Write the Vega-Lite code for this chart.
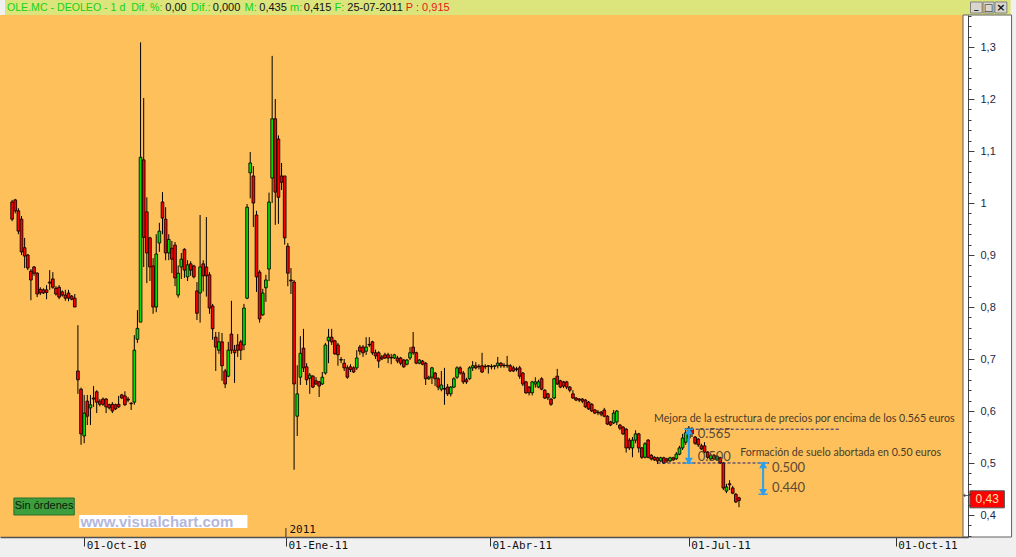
{
"$schema": "https://vega.github.io/schema/vega-lite/v6.json",
"width": 968, "height": 522,
"autosize": {"type": "none"},
"padding": {"left": 0, "top": 15, "right": 48, "bottom": 20},
"background": "#F0F0F0",
"config": {"view": {"fill": "#FEC05A", "stroke": null}, "axis": {"grid": false}},
"resolve": {"axis": {"y": "independent"}},
"datasets": {"velas": [
{"n":0,"o":1.002,"h":1.006,"l":0.965,"c":0.969},{"n":1,"o":1.006,"h":1.008,"l":0.980,"c":0.985},{"n":2,"o":0.985,"h":0.990,"l":0.940,"c":0.946},{"n":3,"o":0.969,"h":0.975,"l":0.900,"c":0.906},{"n":4,"o":0.914,"h":0.933,"l":0.875,"c":0.898},{"n":5,"o":0.900,"h":0.902,"l":0.871,"c":0.875},{"n":6,"o":0.869,"h":0.873,"l":0.813,"c":0.852},{"n":7,"o":0.877,"h":0.879,"l":0.860,"c":0.865},{"n":8,"o":0.865,"h":0.867,"l":0.819,"c":0.825},{"n":9,"o":0.834,"h":0.838,"l":0.823,"c":0.827},
{"n":10,"o":0.833,"h":0.836,"l":0.825,"c":0.827},{"n":11,"o":0.833,"h":0.842,"l":0.815,"c":0.828},{"n":12,"o":0.848,"h":0.871,"l":0.833,"c":0.846},{"n":13,"o":0.854,"h":0.867,"l":0.835,"c":0.838},{"n":14,"o":0.836,"h":0.840,"l":0.822,"c":0.825},{"n":15,"o":0.838,"h":0.842,"l":0.815,"c":0.819},{"n":16,"o":0.829,"h":0.832,"l":0.820,"c":0.823},{"n":17,"o":0.823,"h":0.833,"l":0.812,"c":0.817},{"n":18,"o":0.827,"h":0.833,"l":0.811,"c":0.817},{"n":19,"o":0.821,"h":0.823,"l":0.813,"c":0.815},
{"n":20,"o":0.817,"h":0.825,"l":0.800,"c":0.800},{"n":21,"o":0.677,"h":0.765,"l":0.633,"c":0.660},{"n":22,"o":0.642,"h":0.645,"l":0.535,"c":0.556},{"n":23,"o":0.552,"h":0.631,"l":0.538,"c":0.596},{"n":24,"o":0.619,"h":0.631,"l":0.573,"c":0.590},{"n":25,"o":0.606,"h":0.631,"l":0.573,"c":0.612},{"n":26,"o":0.625,"h":0.648,"l":0.608,"c":0.623},{"n":27,"o":0.637,"h":0.640,"l":0.596,"c":0.617},{"n":28,"o":0.619,"h":0.623,"l":0.609,"c":0.613},{"n":29,"o":0.623,"h":0.626,"l":0.610,"c":0.613},
{"n":30,"o":0.623,"h":0.625,"l":0.596,"c":0.608},{"n":31,"o":0.612,"h":0.614,"l":0.603,"c":0.606},{"n":32,"o":0.613,"h":0.617,"l":0.596,"c":0.600},{"n":33,"o":0.612,"h":0.614,"l":0.602,"c":0.604},{"n":34,"o":0.613,"h":0.629,"l":0.606,"c":0.608},{"n":35,"o":0.631,"h":0.633,"l":0.623,"c":0.625},{"n":36,"o":0.629,"h":0.638,"l":0.610,"c":0.612},{"n":37,"o":0.623,"h":0.627,"l":0.617,"c":0.621},{"n":38,"o":0.615,"h":0.617,"l":0.602,"c":0.614},{"n":39,"o":0.617,"h":0.746,"l":0.612,"c":0.717},
{"n":40,"o":0.738,"h":0.794,"l":0.731,"c":0.759},{"n":41,"o":0.771,"h":1.309,"l":0.771,"c":1.088},{"n":42,"o":1.083,"h":1.202,"l":0.877,"c":0.934},{"n":43,"o":0.983,"h":1.011,"l":0.846,"c":0.904},{"n":44,"o":0.933,"h":0.935,"l":0.850,"c":0.877},{"n":45,"o":0.879,"h":0.894,"l":0.787,"c":0.800},{"n":46,"o":0.800,"h":0.940,"l":0.790,"c":0.902},{"n":47,"o":0.923,"h":0.962,"l":0.906,"c":0.946},{"n":48,"o":1.002,"h":1.021,"l":0.940,"c":0.971},{"n":49,"o":0.969,"h":0.992,"l":0.890,"c":0.904},
{"n":50,"o":0.904,"h":0.940,"l":0.890,"c":0.930},{"n":51,"o":0.913,"h":0.927,"l":0.865,"c":0.892},{"n":52,"o":0.919,"h":0.925,"l":0.840,"c":0.856},{"n":53,"o":0.823,"h":0.880,"l":0.818,"c":0.865},{"n":54,"o":0.877,"h":0.904,"l":0.854,"c":0.892},{"n":55,"o":0.911,"h":0.913,"l":0.856,"c":0.871},{"n":56,"o":0.858,"h":0.890,"l":0.850,"c":0.881},{"n":57,"o":0.883,"h":0.888,"l":0.860,"c":0.871},{"n":58,"o":0.879,"h":0.881,"l":0.855,"c":0.858},{"n":59,"o":0.831,"h":0.848,"l":0.775,"c":0.788},
{"n":60,"o":0.827,"h":0.977,"l":0.770,"c":0.877},{"n":61,"o":0.883,"h":0.890,"l":0.830,"c":0.860},{"n":62,"o":0.877,"h":0.973,"l":0.820,"c":0.860},{"n":63,"o":0.862,"h":0.867,"l":0.787,"c":0.798},{"n":64,"o":0.802,"h":0.806,"l":0.737,"c":0.758},{"n":65,"o":0.742,"h":0.752,"l":0.677,"c":0.723},{"n":66,"o":0.717,"h":0.752,"l":0.710,"c":0.733},{"n":67,"o":0.733,"h":0.750,"l":0.658,"c":0.687},{"n":68,"o":0.677,"h":0.681,"l":0.644,"c":0.652},{"n":69,"o":0.667,"h":0.733,"l":0.665,"c":0.717},
{"n":70,"o":0.748,"h":0.812,"l":0.710,"c":0.717},{"n":71,"o":0.717,"h":0.727,"l":0.654,"c":0.712},{"n":72,"o":0.727,"h":0.748,"l":0.704,"c":0.717},{"n":73,"o":0.733,"h":0.737,"l":0.698,"c":0.717},{"n":74,"o":0.727,"h":0.806,"l":0.717,"c":0.798},{"n":75,"o":0.817,"h":0.998,"l":0.815,"c":0.992},{"n":76,"o":1.058,"h":1.098,"l":1.009,"c":1.077},{"n":77,"o":1.052,"h":1.071,"l":0.954,"c":1.000},{"n":78,"o":0.977,"h":0.985,"l":0.829,"c":0.858},{"n":79,"o":0.867,"h":0.871,"l":0.770,"c":0.777},
{"n":80,"o":0.785,"h":0.835,"l":0.783,"c":0.827},{"n":81,"o":0.837,"h":0.862,"l":0.810,"c":0.852},{"n":82,"o":0.873,"h":1.020,"l":0.850,"c":1.002},{"n":83,"o":1.048,"h":1.283,"l":1.000,"c":1.162},{"n":84,"o":1.162,"h":1.200,"l":0.958,"c":1.021},{"n":85,"o":1.123,"h":1.130,"l":0.960,"c":1.011},{"n":86,"o":1.052,"h":1.077,"l":1.025,"c":1.040},{"n":87,"o":1.052,"h":1.052,"l":0.920,"c":0.933},{"n":88,"o":0.917,"h":0.923,"l":0.840,"c":0.865},{"n":89,"o":0.852,"h":0.875,"l":0.825,"c":0.850},
{"n":90,"o":0.848,"h":0.852,"l":0.487,"c":0.652},{"n":91,"o":0.590,"h":0.688,"l":0.552,"c":0.633},{"n":92,"o":0.665,"h":0.744,"l":0.650,"c":0.711},{"n":93,"o":0.721,"h":0.758,"l":0.675,"c":0.683},{"n":94,"o":0.685,"h":0.692,"l":0.650,"c":0.660},{"n":95,"o":0.663,"h":0.673,"l":0.633,"c":0.669},{"n":96,"o":0.667,"h":0.669,"l":0.644,"c":0.646},{"n":97,"o":0.658,"h":0.665,"l":0.650,"c":0.652},{"n":98,"o":0.656,"h":0.658,"l":0.627,"c":0.648},{"n":99,"o":0.652,"h":0.675,"l":0.650,"c":0.665},
{"n":100,"o":0.673,"h":0.731,"l":0.670,"c":0.727},{"n":101,"o":0.735,"h":0.758,"l":0.692,"c":0.742},{"n":102,"o":0.742,"h":0.758,"l":0.727,"c":0.733},{"n":103,"o":0.735,"h":0.737,"l":0.708,"c":0.710},{"n":104,"o":0.727,"h":0.731,"l":0.687,"c":0.708},{"n":105,"o":0.699,"h":0.704,"l":0.692,"c":0.698},{"n":106,"o":0.692,"h":0.700,"l":0.677,"c":0.683},{"n":107,"o":0.683,"h":0.688,"l":0.662,"c":0.665},{"n":108,"o":0.685,"h":0.690,"l":0.675,"c":0.680},{"n":109,"o":0.683,"h":0.686,"l":0.673,"c":0.675},
{"n":110,"o":0.683,"h":0.717,"l":0.679,"c":0.702},{"n":111,"o":0.723,"h":0.727,"l":0.708,"c":0.715},{"n":112,"o":0.723,"h":0.727,"l":0.704,"c":0.712},{"n":113,"o":0.715,"h":0.742,"l":0.708,"c":0.723},{"n":114,"o":0.728,"h":0.742,"l":0.723,"c":0.727},{"n":115,"o":0.733,"h":0.735,"l":0.708,"c":0.712},{"n":116,"o":0.712,"h":0.718,"l":0.700,"c":0.706},{"n":117,"o":0.712,"h":0.715,"l":0.683,"c":0.696},{"n":118,"o":0.704,"h":0.708,"l":0.698,"c":0.700},{"n":119,"o":0.708,"h":0.712,"l":0.700,"c":0.702},
{"n":120,"o":0.708,"h":0.712,"l":0.692,"c":0.702},{"n":121,"o":0.703,"h":0.710,"l":0.690,"c":0.702},{"n":122,"o":0.702,"h":0.710,"l":0.700,"c":0.708},{"n":123,"o":0.702,"h":0.706,"l":0.692,"c":0.696},{"n":124,"o":0.702,"h":0.704,"l":0.688,"c":0.692},{"n":125,"o":0.698,"h":0.700,"l":0.683,"c":0.685},{"n":126,"o":0.690,"h":0.700,"l":0.688,"c":0.698},{"n":127,"o":0.702,"h":0.723,"l":0.698,"c":0.712},{"n":128,"o":0.723,"h":0.752,"l":0.708,"c":0.712},{"n":129,"o":0.712,"h":0.714,"l":0.690,"c":0.692},
{"n":130,"o":0.692,"h":0.700,"l":0.690,"c":0.698},{"n":131,"o":0.696,"h":0.698,"l":0.688,"c":0.690},{"n":132,"o":0.692,"h":0.694,"l":0.650,"c":0.662},{"n":133,"o":0.662,"h":0.668,"l":0.660,"c":0.665},{"n":134,"o":0.665,"h":0.685,"l":0.652,"c":0.683},{"n":135,"o":0.673,"h":0.675,"l":0.648,"c":0.662},{"n":136,"o":0.662,"h":0.665,"l":0.640,"c":0.646},{"n":137,"o":0.642,"h":0.677,"l":0.638,"c":0.650},{"n":138,"o":0.643,"h":0.683,"l":0.612,"c":0.642},{"n":139,"o":0.646,"h":0.652,"l":0.629,"c":0.633},
{"n":140,"o":0.633,"h":0.648,"l":0.628,"c":0.646},{"n":141,"o":0.646,"h":0.665,"l":0.644,"c":0.662},{"n":142,"o":0.665,"h":0.686,"l":0.662,"c":0.683},{"n":143,"o":0.683,"h":0.686,"l":0.670,"c":0.673},{"n":144,"o":0.673,"h":0.677,"l":0.652,"c":0.656},{"n":145,"o":0.660,"h":0.664,"l":0.652,"c":0.656},{"n":146,"o":0.662,"h":0.686,"l":0.660,"c":0.683},{"n":147,"o":0.683,"h":0.696,"l":0.677,"c":0.687},{"n":148,"o":0.687,"h":0.694,"l":0.680,"c":0.683},{"n":149,"o":0.686,"h":0.690,"l":0.680,"c":0.685},
{"n":150,"o":0.687,"h":0.712,"l":0.673,"c":0.675},{"n":151,"o":0.686,"h":0.690,"l":0.680,"c":0.685},{"n":152,"o":0.687,"h":0.688,"l":0.672,"c":0.686},{"n":153,"o":0.686,"h":0.690,"l":0.680,"c":0.685},{"n":154,"o":0.686,"h":0.688,"l":0.680,"c":0.687},{"n":155,"o":0.687,"h":0.704,"l":0.682,"c":0.692},{"n":156,"o":0.692,"h":0.694,"l":0.683,"c":0.687},{"n":157,"o":0.688,"h":0.692,"l":0.683,"c":0.687},{"n":158,"o":0.687,"h":0.706,"l":0.683,"c":0.688},{"n":159,"o":0.687,"h":0.690,"l":0.675,"c":0.677},
{"n":160,"o":0.683,"h":0.687,"l":0.675,"c":0.677},{"n":161,"o":0.681,"h":0.685,"l":0.676,"c":0.680},{"n":162,"o":0.683,"h":0.687,"l":0.662,"c":0.667},{"n":163,"o":0.673,"h":0.675,"l":0.648,"c":0.652},{"n":164,"o":0.656,"h":0.658,"l":0.633,"c":0.635},{"n":165,"o":0.646,"h":0.648,"l":0.630,"c":0.635},{"n":166,"o":0.635,"h":0.658,"l":0.630,"c":0.656},{"n":167,"o":0.652,"h":0.665,"l":0.645,"c":0.656},{"n":168,"o":0.646,"h":0.660,"l":0.644,"c":0.656},{"n":169,"o":0.662,"h":0.665,"l":0.640,"c":0.642},
{"n":170,"o":0.640,"h":0.642,"l":0.623,"c":0.625},{"n":171,"o":0.633,"h":0.635,"l":0.621,"c":0.625},{"n":172,"o":0.623,"h":0.625,"l":0.610,"c":0.613},{"n":173,"o":0.625,"h":0.664,"l":0.623,"c":0.662},{"n":174,"o":0.667,"h":0.681,"l":0.650,"c":0.652},{"n":175,"o":0.658,"h":0.660,"l":0.644,"c":0.646},{"n":176,"o":0.656,"h":0.658,"l":0.644,"c":0.648},{"n":177,"o":0.656,"h":0.658,"l":0.642,"c":0.646},{"n":178,"o":0.646,"h":0.648,"l":0.636,"c":0.640},{"n":179,"o":0.633,"h":0.640,"l":0.623,"c":0.625},
{"n":180,"o":0.625,"h":0.627,"l":0.619,"c":0.621},{"n":181,"o":0.623,"h":0.625,"l":0.617,"c":0.621},{"n":182,"o":0.623,"h":0.625,"l":0.615,"c":0.619},{"n":183,"o":0.621,"h":0.623,"l":0.606,"c":0.608},{"n":184,"o":0.617,"h":0.619,"l":0.602,"c":0.604},{"n":185,"o":0.613,"h":0.615,"l":0.598,"c":0.600},{"n":186,"o":0.602,"h":0.604,"l":0.594,"c":0.596},{"n":187,"o":0.598,"h":0.602,"l":0.592,"c":0.597},{"n":188,"o":0.598,"h":0.600,"l":0.590,"c":0.594},{"n":189,"o":0.602,"h":0.606,"l":0.588,"c":0.590},
{"n":190,"o":0.590,"h":0.592,"l":0.573,"c":0.575},{"n":191,"o":0.579,"h":0.581,"l":0.571,"c":0.573},{"n":192,"o":0.577,"h":0.602,"l":0.575,"c":0.596},{"n":193,"o":0.579,"h":0.602,"l":0.573,"c":0.600},{"n":194,"o":0.573,"h":0.575,"l":0.563,"c":0.567},{"n":195,"o":0.569,"h":0.571,"l":0.554,"c":0.556},{"n":196,"o":0.565,"h":0.567,"l":0.520,"c":0.529},{"n":197,"o":0.544,"h":0.548,"l":0.525,"c":0.529},{"n":198,"o":0.529,"h":0.550,"l":0.511,"c":0.544},{"n":199,"o":0.544,"h":0.563,"l":0.538,"c":0.556},
{"n":200,"o":0.556,"h":0.558,"l":0.520,"c":0.529},{"n":201,"o":0.529,"h":0.531,"l":0.508,"c":0.511},{"n":202,"o":0.511,"h":0.540,"l":0.509,"c":0.537},{"n":203,"o":0.544,"h":0.546,"l":0.509,"c":0.511},{"n":204,"o":0.515,"h":0.517,"l":0.505,"c":0.508},{"n":205,"o":0.511,"h":0.513,"l":0.504,"c":0.506},{"n":206,"o":0.510,"h":0.512,"l":0.498,"c":0.504},{"n":207,"o":0.504,"h":0.512,"l":0.502,"c":0.510},{"n":208,"o":0.510,"h":0.512,"l":0.498,"c":0.500},{"n":209,"o":0.508,"h":0.510,"l":0.500,"c":0.504},
{"n":210,"o":0.504,"h":0.512,"l":0.502,"c":0.510},{"n":211,"o":0.510,"h":0.512,"l":0.504,"c":0.506},{"n":212,"o":0.508,"h":0.521,"l":0.506,"c":0.517},{"n":213,"o":0.517,"h":0.533,"l":0.515,"c":0.529},{"n":214,"o":0.529,"h":0.556,"l":0.525,"c":0.548},{"n":215,"o":0.540,"h":0.567,"l":0.535,"c":0.558},{"n":216,"o":0.548,"h":0.571,"l":0.544,"c":0.567},{"n":217,"o":0.565,"h":0.569,"l":0.550,"c":0.556},{"n":218,"o":0.550,"h":0.552,"l":0.535,"c":0.538},{"n":219,"o":0.546,"h":0.548,"l":0.531,"c":0.535},
{"n":220,"o":0.533,"h":0.537,"l":0.525,"c":0.527},{"n":221,"o":0.533,"h":0.540,"l":0.519,"c":0.521},{"n":222,"o":0.521,"h":0.523,"l":0.508,"c":0.511},{"n":223,"o":0.508,"h":0.517,"l":0.506,"c":0.515},{"n":224,"o":0.515,"h":0.517,"l":0.506,"c":0.508},{"n":225,"o":0.506,"h":0.515,"l":0.504,"c":0.513},{"n":226,"o":0.510,"h":0.512,"l":0.498,"c":0.500},{"n":227,"o":0.500,"h":0.502,"l":0.448,"c":0.452},{"n":228,"o":0.446,"h":0.460,"l":0.442,"c":0.454},{"n":229,"o":0.460,"h":0.467,"l":0.448,"c":0.458},
{"n":230,"o":0.452,"h":0.456,"l":0.440,"c":0.442},{"n":231,"o":0.440,"h":0.442,"l":0.423,"c":0.425},{"n":232,"o":0.433,"h":0.435,"l":0.415,"c":0.428}
]},
"layer": [
{"data": {"values": [{}]}, "mark": {"type": "rect", "fill": "#DCE47C"}, "encoding": {"x": {"datum": -2.27}, "x2": {"datum": 318.7}, "y": {"datum": 1.3616, "axis": null}, "y2": {"datum": 1.4}}},
{"data": {"values": [{}]}, "mark": {"type": "rect", "fill": "#FFFFFF", "stroke": "#606060", "strokeWidth": 1}, "encoding": {"x": {"datum": 303.5}, "x2": {"datum": 319}, "y": {"datum": 0.3577, "axis": null}, "y2": {"datum": 1.3616}}},
{"data": {"name": "velas"}, "mark": {"type": "rule", "color": "#000000", "strokeWidth": 1},
 "encoding": {
  "x": {"field": "n", "type": "quantitative", "scale": {"domain": [-2.27, 303.5], "nice": false, "zero": false},
        "axis": {"title": null, "values": [23, 87.4, 152.5, 216, 282], "labelExpr": "datum.value == 23 ? '01-Oct-10' : datum.value == 87.4 ? '01-Ene-11' : datum.value == 152.5 ? '01-Abr-11' : datum.value == 216 ? '01-Jul-11' : '01-Oct-11'", "domainColor": "#505050", "domainWidth": 1.5, "tickColor": "#303030", "tickSize": 9, "labelAlign": "left", "labelBaseline": "top", "labelOffset": 2, "labelPadding": -7, "labelFont": "DejaVu Sans Mono", "labelFontSize": 11, "labelColor": "#111111", "labelOverlap": false, "labelFlush": false, "zindex": 2}},
  "y": {"field": "l", "type": "quantitative", "scale": {"domain": [0.3577, 1.3616], "nice": false, "zero": false},
        "axis": {"title": null, "orient": "right", "values": [0.4,0.5,0.6,0.7,0.8,0.9,1,1.1,1.2,1.3],
                 "labelExpr": "replace(format(datum.value, '.1~f'), '.', ',')",
                 "tickSize": 6, "labelPadding": 6, "labelFont": "Liberation Sans", "labelFontSize": 11, "labelColor": "#1C2746", "domainColor": "#404040", "tickColor": "#404040", "labelOverlap": false, "labelFlush": false, "labelBound": false, "zindex": 2}},
  "y2": {"field": "h"}}},
{"data": {"name": "velas"}, "mark": {"type": "bar", "width": 2.7, "stroke": "#000000", "strokeWidth": 0.85, "orient": "vertical"},
 "encoding": {
  "x": {"field": "n", "type": "quantitative", "axis": {"title": null}},
  "y": {"field": "o", "type": "quantitative", "scale": {"domain": [0.3577, 1.3616], "nice": false, "zero": false},
        "axis": {"title": null, "orient": "right", "values": [0.36,0.38,0.42,0.44,0.46,0.48,0.52,0.54,0.56,0.58,0.62,0.64,0.66,0.68,0.72,0.74,0.76,0.78,0.82,0.84,0.86,0.88,0.92,0.94,0.96,0.98,1.02,1.04,1.06,1.08,1.12,1.14,1.16,1.18,1.22,1.24,1.26,1.28,1.32,1.34,1.36], "labels": false, "domain": false, "tickSize": 3, "tickColor": "#404040", "zindex": 2}},
  "y2": {"field": "c"},
  "fill": {"condition": {"test": "datum.c >= datum.o", "value": "#00E000"}, "value": "#FF0000"}}},
{"data": {"values": [{}]}, "mark": {"type": "rule", "color": "#1C1C80", "strokeDash": [3, 2], "strokeWidth": 1}, "encoding": {"x": {"datum": 215}, "x2": {"datum": 264}, "y": {"datum": 0.565, "axis": null}}},
{"data": {"values": [{}]}, "mark": {"type": "rule", "color": "#1C1C80", "strokeDash": [3, 2], "strokeWidth": 1}, "encoding": {"x": {"datum": 206}, "x2": {"datum": 241.6}, "y": {"datum": 0.5, "axis": null}}},
{"data": {"values": [{}]}, "mark": {"type": "rule", "color": "#2AA0EE", "strokeWidth": 2}, "encoding": {"x": {"datum": 216}, "y": {"datum": 0.565, "axis": null}, "y2": {"datum": 0.5}}},
{"data": {"values": [{}]}, "mark": {"type": "rule", "color": "#2AA0EE", "strokeWidth": 2}, "encoding": {"x": {"datum": 239.7}, "y": {"datum": 0.5, "axis": null}, "y2": {"datum": 0.44}}},
{"data": {"values": [{}]}, "mark": {"type": "point", "shape": "M-1,0L1,0M0,0L-0.6,1L0.6,1Z", "size": 81, "filled": true, "color": "#2AA0EE", "stroke": "#2AA0EE", "strokeWidth": 1.5, "opacity": 1}, "encoding": {"x": {"datum": 216}, "y": {"datum": 0.565, "axis": null}}},
{"data": {"values": [{}]}, "mark": {"type": "point", "shape": "M-1,0L1,0M0,0L-0.6,-1L0.6,-1Z", "size": 81, "filled": true, "color": "#2AA0EE", "stroke": "#2AA0EE", "strokeWidth": 1.5, "opacity": 1}, "encoding": {"x": {"datum": 216}, "y": {"datum": 0.5, "axis": null}}},
{"data": {"values": [{}]}, "mark": {"type": "point", "shape": "M-1,0L1,0M0,0L-0.6,1L0.6,1Z", "size": 81, "filled": true, "color": "#2AA0EE", "stroke": "#2AA0EE", "strokeWidth": 1.5, "opacity": 1}, "encoding": {"x": {"datum": 239.7}, "y": {"datum": 0.5, "axis": null}}},
{"data": {"values": [{}]}, "mark": {"type": "point", "shape": "M-1,0L1,0M0,0L-0.6,-1L0.6,-1Z", "size": 81, "filled": true, "color": "#2AA0EE", "stroke": "#2AA0EE", "strokeWidth": 1.5, "opacity": 1}, "encoding": {"x": {"datum": 239.7}, "y": {"datum": 0.44, "axis": null}}},
{"data": {"values": [{}]}, "mark": {"type": "text", "text": "Mejora de la estructura de precios por encima de los 0.565 euros", "align": "left", "baseline": "middle", "font": "Lato", "fontSize": 10.6, "color": "#4A3B2B"}, "encoding": {"x": {"datum": 204.9}, "y": {"datum": 0.5846, "axis": null}}},
{"data": {"values": [{}]}, "mark": {"type": "text", "text": "0.565", "align": "left", "baseline": "middle", "font": "Lato", "fontSize": 13, "color": "#5A4A36"}, "encoding": {"x": {"datum": 218.8}, "y": {"datum": 0.5567, "axis": null}}},
{"data": {"values": [{}]}, "mark": {"type": "text", "text": "0.500", "align": "left", "baseline": "middle", "font": "Lato", "fontSize": 13, "color": "#5A4A36"}, "encoding": {"x": {"datum": 218.8}, "y": {"datum": 0.511, "axis": null}}},
{"data": {"values": [{}]}, "mark": {"type": "text", "text": "Formación de suelo abortada en 0.50 euros", "align": "left", "baseline": "middle", "font": "Lato", "fontSize": 10.6, "color": "#4A3B2B"}, "encoding": {"x": {"datum": 232.4}, "y": {"datum": 0.519, "axis": null}}},
{"data": {"values": [{}]}, "mark": {"type": "text", "text": "0.500", "align": "left", "baseline": "middle", "font": "Lato", "fontSize": 13, "color": "#5A4A36"}, "encoding": {"x": {"datum": 242.5}, "y": {"datum": 0.49, "axis": null}}},
{"data": {"values": [{}]}, "mark": {"type": "text", "text": "0.440", "align": "left", "baseline": "middle", "font": "Lato", "fontSize": 13, "color": "#5A4A36"}, "encoding": {"x": {"datum": 242.5}, "y": {"datum": 0.452, "axis": null}}},
{"data": {"values": [{}]}, "mark": {"type": "rect", "fill": "#3C9E3C", "stroke": "#2C6E2C", "strokeWidth": 1}, "encoding": {"x": {"datum": 0.57}, "x2": {"datum": 19.84}, "y": {"datum": 0.4327, "axis": null}, "y2": {"datum": 0.4}}},
{"data": {"values": [{}]}, "mark": {"type": "text", "text": "Sin órdenes", "align": "center", "baseline": "middle", "font": "Liberation Sans", "fontSize": 11, "color": "#0A1A0A"}, "encoding": {"x": {"datum": 10.2}, "y": {"datum": 0.4164, "axis": null}}},
{"data": {"values": [{}]}, "mark": {"type": "rect", "fill": "#FFFFFF"}, "encoding": {"x": {"datum": 21.42}, "x2": {"datum": 75.11}, "y": {"datum": 0.4, "axis": null}, "y2": {"datum": 0.375}}},
{"data": {"values": [{}]}, "mark": {"type": "text", "text": "www.visualchart.com", "align": "left", "baseline": "middle", "font": "Liberation Sans", "fontWeight": "bold", "fontSize": 15, "color": "#B4B8DC"}, "encoding": {"x": {"datum": 21.8}, "y": {"datum": 0.3875, "axis": null}}},
{"data": {"values": [{}]}, "mark": {"type": "rule", "color": "#303030", "strokeWidth": 1}, "encoding": {"x": {"datum": 87.4}, "y": {"datum": 0.3577, "axis": null}, "y2": {"datum": 0.375}}},
{"data": {"values": [{}]}, "mark": {"type": "text", "text": "2011", "align": "left", "baseline": "middle", "font": "DejaVu Sans Mono", "fontSize": 11, "color": "#111111"}, "encoding": {"x": {"datum": 88.5}, "y": {"datum": 0.3712, "axis": null}}},
{"data": {"values": [{}]}, "mark": {"type": "rect", "fill": "#FF0000", "stroke": "#505050", "strokeWidth": 1}, "encoding": {"x": {"datum": 305.7}, "x2": {"datum": 316.7}, "y": {"datum": 0.4465, "axis": null}, "y2": {"datum": 0.4138}}},
{"data": {"values": [{}]}, "mark": {"type": "text", "text": "0,43", "align": "center", "baseline": "middle", "font": "Liberation Sans", "fontSize": 12, "color": "#FFE4A8"}, "encoding": {"x": {"datum": 311.2}, "y": {"datum": 0.4301, "axis": null}}},
{"data": {"values": [{}]}, "mark": {"type": "text", "text": "←", "align": "center", "baseline": "middle", "font": "DejaVu Sans", "fontSize": 9, "color": "#404040"}, "encoding": {"x": {"datum": 304.6}, "y": {"datum": 0.4385, "axis": null}}},
{"data": {"values": [{}]}, "mark": {"type": "rect", "fill": "#D8D6CE", "stroke": "#808080", "strokeWidth": 1}, "encoding": {"x": {"datum": 305.9}, "x2": {"datum": 309.6}, "y": {"datum": 1.3866, "axis": null}, "y2": {"datum": 1.3654}}},
{"data": {"values": [{}]}, "mark": {"type": "rect", "fill": "#D8D6CE", "stroke": "#808080", "strokeWidth": 1}, "encoding": {"x": {"datum": 309.9}, "x2": {"datum": 313.4}, "y": {"datum": 1.3866, "axis": null}, "y2": {"datum": 1.3654}}},
{"data": {"values": [{}]}, "mark": {"type": "rect", "fill": "#D8D6CE", "stroke": "#808080", "strokeWidth": 1}, "encoding": {"x": {"datum": 313.7}, "x2": {"datum": 317.5}, "y": {"datum": 1.3866, "axis": null}, "y2": {"datum": 1.3654}}},
{"data": {"values": [{}]}, "mark": {"type": "text", "text": "_", "align": "center", "baseline": "middle", "font": "DejaVu Sans", "fontSize": 9, "fontWeight": "bold", "color": "#111111"}, "encoding": {"x": {"datum": 307.75}, "y": {"datum": 1.378, "axis": null}}},
{"data": {"values": [{}]}, "mark": {"type": "text", "text": "□", "align": "center", "baseline": "middle", "font": "DejaVu Sans", "fontSize": 10, "color": "#111111"}, "encoding": {"x": {"datum": 311.65}, "y": {"datum": 1.376, "axis": null}}},
{"data": {"values": [{}]}, "mark": {"type": "text", "text": "×", "align": "center", "baseline": "middle", "font": "DejaVu Sans", "fontSize": 11, "fontWeight": "bold", "color": "#111111"}, "encoding": {"x": {"datum": 315.6}, "y": {"datum": 1.376, "axis": null}}},
{"data": {"values": [{}]}, "mark": {"type": "text", "text": "OLE.MC - DEOLEO - 1 d\u00a0 Dif. %:", "align": "left", "baseline": "middle", "font": "Liberation Sans", "fontSize": 10.6, "color": "#14D214"}, "encoding": {"x": {"datum": -1.64}, "y": {"datum": 1.376, "axis": null}}},
{"data": {"values": [{}]}, "mark": {"type": "text", "text": "0,00", "align": "left", "baseline": "middle", "font": "Liberation Sans", "fontSize": 11, "color": "#111111"}, "encoding": {"x": {"datum": 48.9}, "y": {"datum": 1.376, "axis": null}}},
{"data": {"values": [{}]}, "mark": {"type": "text", "text": "Dif.:", "align": "left", "baseline": "middle", "font": "Liberation Sans", "fontSize": 11, "color": "#14D214"}, "encoding": {"x": {"datum": 57.1}, "y": {"datum": 1.376, "axis": null}}},
{"data": {"values": [{}]}, "mark": {"type": "text", "text": "0,000", "align": "left", "baseline": "middle", "font": "Liberation Sans", "fontSize": 11, "color": "#111111"}, "encoding": {"x": {"datum": 64.06}, "y": {"datum": 1.376, "axis": null}}},
{"data": {"values": [{}]}, "mark": {"type": "text", "text": "M:", "align": "left", "baseline": "middle", "font": "Liberation Sans", "fontSize": 11, "color": "#14D214"}, "encoding": {"x": {"datum": 74.17}, "y": {"datum": 1.376, "axis": null}}},
{"data": {"values": [{}]}, "mark": {"type": "text", "text": "0,435", "align": "left", "baseline": "middle", "font": "Liberation Sans", "fontSize": 11, "color": "#111111"}, "encoding": {"x": {"datum": 78.9}, "y": {"datum": 1.376, "axis": null}}},
{"data": {"values": [{}]}, "mark": {"type": "text", "text": "m:", "align": "left", "baseline": "middle", "font": "Liberation Sans", "fontSize": 11, "color": "#14D214"}, "encoding": {"x": {"datum": 88.7}, "y": {"datum": 1.376, "axis": null}}},
{"data": {"values": [{}]}, "mark": {"type": "text", "text": "0,415", "align": "left", "baseline": "middle", "font": "Liberation Sans", "fontSize": 11, "color": "#111111"}, "encoding": {"x": {"datum": 93.1}, "y": {"datum": 1.376, "axis": null}}},
{"data": {"values": [{}]}, "mark": {"type": "text", "text": "F:", "align": "left", "baseline": "middle", "font": "Liberation Sans", "fontSize": 11, "color": "#14D214"}, "encoding": {"x": {"datum": 102.9}, "y": {"datum": 1.376, "axis": null}}},
{"data": {"values": [{}]}, "mark": {"type": "text", "text": "25-07-2011", "align": "left", "baseline": "middle", "font": "Liberation Sans", "fontSize": 11, "color": "#111111"}, "encoding": {"x": {"datum": 107.0}, "y": {"datum": 1.376, "axis": null}}},
{"data": {"values": [{}]}, "mark": {"type": "text", "text": "P : 0,915", "align": "left", "baseline": "middle", "font": "Liberation Sans", "fontSize": 11, "color": "#F01414"}, "encoding": {"x": {"datum": 125.65}, "y": {"datum": 1.376, "axis": null}}}
]
}
